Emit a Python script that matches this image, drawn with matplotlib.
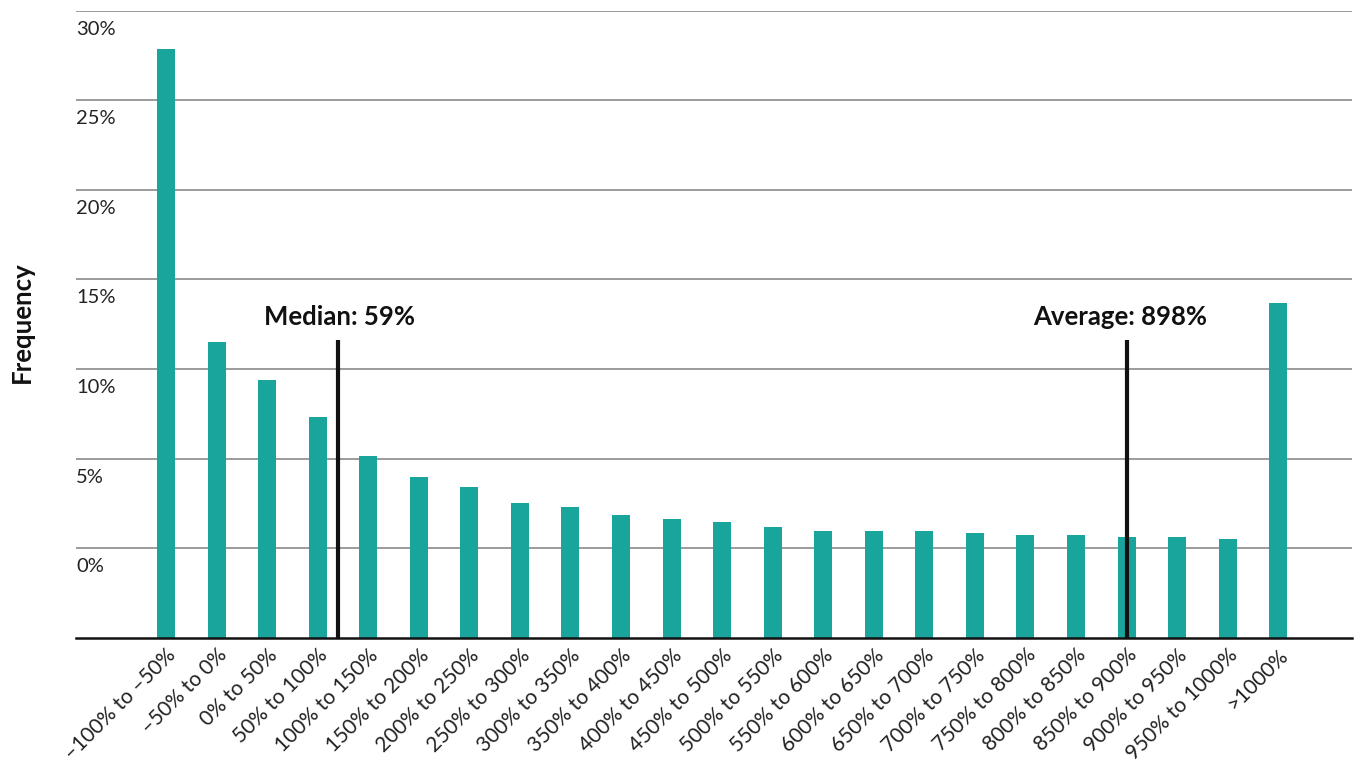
import matplotlib
matplotlib.use("Agg")
import matplotlib.pyplot as plt
import matplotlib.transforms as mtransforms
import numpy as np

plt.rcParams['font.family'] = ['Lato', 'DejaVu Sans']

categories = ["\u2013100% to \u201350%", "\u201350% to 0%", "0% to 50%", "50% to 100%",
              "100% to 150%", "150% to 200%", "200% to 250%", "250% to 300%",
              "300% to 350%", "350% to 400%", "400% to 450%", "450% to 500%",
              "500% to 550%", "550% to 600%", "600% to 650%", "650% to 700%",
              "700% to 750%", "750% to 800%", "800% to 850%", "850% to 900%",
              "900% to 950%", "950% to 1000%", ">1000%"]
frequency = [27.85, 11.5, 9.4, 7.3, 5.15, 4.0, 3.43, 2.54, 2.32, 1.87, 1.65, 1.48,
             1.2, 0.95, 0.95, 0.95, 0.84, 0.73, 0.73, 0.61, 0.61, 0.5, 13.7]
y_ticks = [0, 5, 10, 15, 20, 25, 30]
y_tick_labels = ["0%", "5%", "10%", "15%", "20%", "25%", "30%"]
median_pos, median_label = 3.40, "Median: 59%"
average_pos, average_label = 19.0, "Average: 898%"
marker_top = 11.6

TEAL = "#19A59C"
DARK = "#111111"
FLOOR = -5

fig = plt.figure(figsize=(13.54, 7.64), dpi=100)
ax = fig.add_axes([76/1354, 1-638/764, (1352-76)/1354, (638-10.5)/764])

x = np.arange(len(categories))
vals = np.array(frequency)
ax.bar(x, vals - FLOOR, bottom=FLOOR, width=0.356, color=TEAL, zorder=3)

ax.set_xlim(-1.78, 23.46)
ax.set_ylim(FLOOR, 30)

for t in y_ticks:
    ax.axhline(t, color="#8a8a8a", lw=1.2, zorder=1)

for s in ["top", "left", "right"]:
    ax.spines[s].set_visible(False)
ax.spines["bottom"].set_color(DARK)
ax.spines["bottom"].set_linewidth(1.8)
ax.spines["bottom"].set_zorder(5)

ax.set_yticks([])
ax.set_xticks(x)
ax.set_xticklabels(categories, rotation=45, ha="right", va="top",
                   rotation_mode="anchor", fontsize=15, color="#222222")
ax.tick_params(axis="x", length=0, pad=5)

trans = mtransforms.blended_transform_factory(ax.transAxes, ax.transData)
trans = mtransforms.offset_copy(trans, fig=fig, x=0, y=-10, units="dots")
for t, lab in zip(y_ticks, y_tick_labels):
    ax.text(0.0, t, lab, transform=trans, ha="left", va="top",
            fontsize=14.5, color="#222222")

for pos in (median_pos, average_pos):
    ax.plot([pos, pos], [FLOOR, marker_top], color=DARK, lw=3, zorder=4,
            solid_capstyle="butt")

ax.text(3.44, 12.45, median_label, ha="center", va="baseline",
        fontsize=18.5, fontweight="bold", color=DARK)
ax.text(18.87, 12.45, average_label, ha="center", va="baseline",
        fontsize=18.5, fontweight="bold", color=DARK)

fig.text(22/1354, 1-322/764, "Frequency", rotation=90, ha="center", va="center",
         fontsize=18.5, fontweight="bold", color=DARK)

fig.savefig("out.png", dpi=100)
